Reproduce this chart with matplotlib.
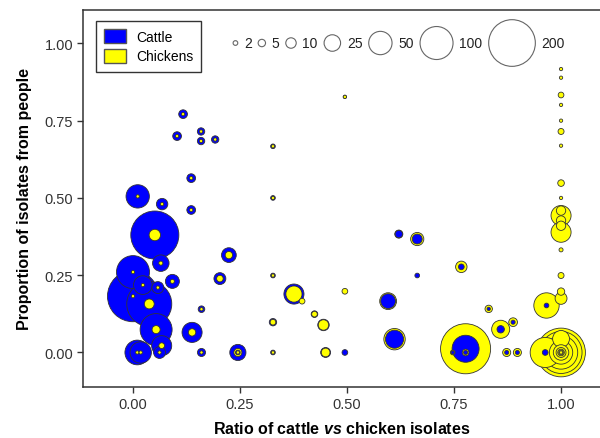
import numpy as np
import matplotlib
matplotlib.use("Agg")
import matplotlib.pyplot as plt
from matplotlib.patches import Patch, Circle
from matplotlib.offsetbox import DrawingArea, TextArea, HPacker, AnchoredOffsetbox

plt.rcParams["font.family"] = ["Liberation Sans", "DejaVu Sans"]
plt.rcParams["mathtext.fontset"] = "custom"
plt.rcParams["mathtext.it"] = "Liberation Sans:italic:bold"

# one row per cluster: ratio, proportion from people, isolate counts
x_ratio = [0.011, 0.068, 0.051, 0.065, 0.000, 0.023, 0.058, 0.092, 0.000, 0.038,
           0.054, 0.067, 0.010, 0.018, 0.062, 0.138, 0.160, 0.245, 0.245, 0.160,
           0.224, 0.203, 0.136, 0.136, 0.117, 0.103, 0.159, 0.159, 0.192,
           0.327, 0.327, 0.327, 0.327, 0.327, 0.495, 0.376, 0.395, 0.424, 0.445,
           0.450, 0.495, 0.495, 0.596, 0.611, 0.621, 0.664, 0.664, 0.767, 0.831,
           0.859, 0.888, 0.873, 0.898, 0.777, 0.777, 0.747, 0.963, 0.966,
           1.0, 1.0, 1.0, 1.0, 1.0, 1.0, 1.0, 1.0, 1.0, 1.0, 1.0, 1.0, 1.0, 1.0,
           1.0, 1.0, 1.0, 1.0, 1.0,
           1.0, 1.0, 1.0, 1.0, 1.0, 1.0, 1.0, 1.0, 1.0]
prop_people = [0.505, 0.480, 0.380, 0.289, 0.260, 0.218, 0.210, 0.230, 0.182, 0.157,
               0.074, 0.022, 0.000, 0.000, 0.000, 0.065, 0.000, 0.000, 0.000, 0.140,
               0.315, 0.239, 0.461, 0.564, 0.771, 0.700, 0.715, 0.684, 0.689,
               0.667, 0.500, 0.249, 0.098, 0.000, 0.827, 0.189, 0.166, 0.124, 0.089,
               0.000, 0.000, 0.198, 0.166, 0.043, 0.383, 0.367, 0.249, 0.277, 0.141,
               0.075, 0.098, 0.000, 0.000, 0.012, 0.000, 0.000, 0.000, 0.152,
               0.917, 0.889, 0.833, 0.801, 0.750, 0.715, 0.669, 0.548, 0.500, 0.459,
               0.443, 0.427, 0.410, 0.389, 0.332, 0.249, 0.197, 0.175, 0.044,
               0.0, 0.0, 0.0, 0.0, 0.0, 0.0, 0.0, 0.0, 0.0]
cattle = [50, 12, 212, 25, 100, 32, 13, 18, 239, 186,
          94, 37, 56, 42, 13, 37, 6, 24, 2, 4,
          20, 13, 7, 7, 7, 7, 5, 5, 5,
          2, 2, 2, 5, 2, 1, 37, 0, 4, 12,
          9, 3, 0, 20, 30, 5, 9, 2, 3, 1,
          5, 1.5, 1.5, 1.5, 67, 1.5, 1, 3, 2,
          0, 0, 0, 0, 0, 0, 0, 0, 0, 0, 0, 0, 0, 0, 0, 0, 0, 0, 0,
          0, 0, 0, 0, 0, 0, 0, 0, 0]
chickens = [1, 1, 12, 1.5, 1, 1, 1, 1.5, 1, 9,
            6, 3, 1, 1, 1, 5, 1, 6, 1, 1,
            5, 4, 1, 1, 1, 1, 1, 1, 1,
            1, 1, 1, 3, 1, 1, 24, 3, 3, 10,
            7, 0, 3, 26, 42, 6, 16, 0, 12, 5,
            30, 7, 6, 6, 230, 4, 2, 83, 59,
            1, 1, 3, 1, 1, 3.3, 1, 4, 1, 8, 37, 8, 8, 37, 1.5, 3.3, 5, 13, 26,
            218, 162, 102, 50, 22, 9, 4, 2, 1]

size_breaks = [2, 5, 10, 25, 50, 100, 200]
size_labels = ["2", "5", "10", "25", "50", "100", "200"]

DIAM_PT = 3.3 * 0.72  # marker diameter in points per sqrt(count)

fig = plt.figure(figsize=(6, 4.39), dpi=100)
ax = fig.add_axes([83 / 600, 51 / 439, 517 / 600, 377 / 439])

xs = np.array(x_ratio + x_ratio)
ys = np.array(prop_people + prop_people)
ns = np.array(cattle + chickens, dtype=float)
cols = np.array(["#0000FF"] * len(cattle) + ["#FFFF00"] * len(chickens))
keep = ns > 0
xs, ys, ns, cols = xs[keep], ys[keep], ns[keep], cols[keep]
order = np.argsort(-ns, kind="stable")
ax.scatter(xs[order], ys[order], s=(DIAM_PT ** 2) * ns[order], c=cols[order],
           edgecolors="#333333", linewidths=0.6, zorder=3)

ax.set_xlim(-0.1168, 1.091)
ax.set_ylim(-0.1117, 1.108)
ticks = [0, 0.25, 0.5, 0.75, 1.0]
ax.set_xticks(ticks)
ax.set_yticks(ticks)
ax.set_xticklabels([f"{t:.2f}" for t in ticks])
ax.set_yticklabels([f"{t:.2f}" for t in ticks])
ax.tick_params(direction="out", length=4, width=1, color="#333333",
               labelsize=10.5, labelcolor="#333333", pad=3)
ax.spines["right"].set_visible(False)
for sp in ["left", "top", "bottom"]:
    ax.spines[sp].set_color("#333333")
    ax.spines[sp].set_linewidth(1.1)

ax.set_xlabel(r"Ratio of cattle $\mathit{vs}$ chicken isolates",
              fontsize=11.5, fontweight="bold", labelpad=7)
ax.set_ylabel("Proportion of isolates from people",
              fontsize=11.5, fontweight="bold", labelpad=9)

handles = [Patch(facecolor="#0000FF", edgecolor="#555555", label="Cattle"),
           Patch(facecolor="#FFFF00", edgecolor="#555555", label="Chickens")]
leg = ax.legend(handles=handles, loc="upper left", bbox_to_anchor=(0.025, 0.972),
                fontsize=10, frameon=True, fancybox=False, edgecolor="black",
                handlelength=1.6, handleheight=1.2, handletextpad=0.67,
                labelspacing=0.35, borderpad=0.6, borderaxespad=0)
leg.get_frame().set_linewidth(1.0)

# size key
items = []
dmax = DIAM_PT * np.sqrt(max(size_breaks)) + 2
for n, lab in zip(size_breaks, size_labels):
    d = DIAM_PT * np.sqrt(n)
    da = DrawingArea(d + 1, dmax, 0, 0)
    da.add_artist(Circle(((d + 1) / 2, dmax / 2), d / 2, facecolor="none",
                         edgecolor="#666666", linewidth=0.8))
    items.append(da)
    items.append(TextArea(lab, textprops=dict(fontsize=10, color="#222222")))
pack = HPacker(children=items, align="center", pad=0, sep=4)
box = AnchoredOffsetbox(loc="upper left", child=pack, frameon=False, pad=0,
                        borderpad=0, bbox_to_anchor=(0.289, 0.978),
                        bbox_transform=ax.transAxes)
ax.add_artist(box)

fig.savefig("out.png", dpi=100)
